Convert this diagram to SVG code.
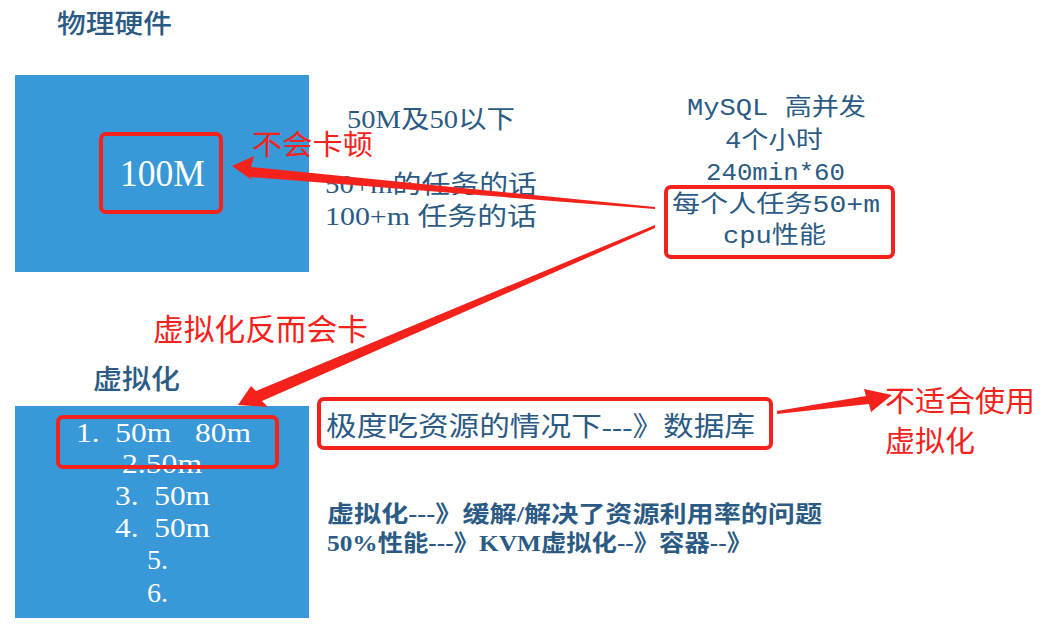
<svg xmlns="http://www.w3.org/2000/svg" width="1054" height="625" viewBox="0 0 1054 625">
<style>
.box{fill:#3898d8;}
.hl{fill:none;stroke:#f5221b;stroke-width:4;}
.t{font-family:"Liberation Serif","Noto Sans CJK SC",serif;fill:#2b5b84;}
.m{font-family:"Liberation Mono","Noto Sans CJK SC",monospace;fill:#2b5b84;}
.w{font-family:"Liberation Serif","Noto Sans CJK SC",serif;fill:#ffffff;white-space:pre;}
.r{font-family:"Noto Sans CJK SC",sans-serif;fill:#f5221b;}
.arrow{fill:#f5221b;}
</style>
<rect width="1054" height="625" fill="#ffffff"/>
<g id="title-physical">
<text class="t" x="57" y="33" font-size="26" font-weight="500" textLength="115" lengthAdjust="spacingAndGlyphs">物理硬件</text>
</g>
<g id="physical-box">
<rect class="box" x="15" y="75" width="294" height="197"/>
<rect class="hl" x="101" y="134" width="120" height="78" rx="5"/>
<text class="w" x="120" y="186" font-size="38" textLength="85" lengthAdjust="spacingAndGlyphs">100M</text>
</g>
<g id="label-nolag">
<text class="r" x="252" y="155" font-size="28" textLength="121" lengthAdjust="spacingAndGlyphs">不会卡顿</text>
</g>
<g id="physical-notes">
<text class="t" x="347" y="128" font-size="25" textLength="168" lengthAdjust="spacingAndGlyphs">50M及50以下</text>
<text class="t" x="325" y="193" font-size="25" textLength="212" lengthAdjust="spacingAndGlyphs">50+m的任务的话</text>
<text class="t" x="325" y="225" font-size="25" textLength="212" lengthAdjust="spacingAndGlyphs">100+m 任务的话</text>
</g>
<g id="mysql-notes">
<text class="m" x="687" y="115" font-size="24" textLength="179" lengthAdjust="spacingAndGlyphs">MySQL 高并发</text>
<text class="m" x="725" y="148" font-size="24" textLength="98" lengthAdjust="spacingAndGlyphs">4个小时</text>
<text class="m" x="706" y="180" font-size="24" textLength="139" lengthAdjust="spacingAndGlyphs">240min*60</text>
<rect class="hl" x="666" y="187" width="227" height="70" rx="5"/>
<text class="m" x="672" y="212" font-size="24" textLength="208" lengthAdjust="spacingAndGlyphs">每个人任务50+m</text>
<text class="m" x="723" y="243" font-size="24" textLength="103" lengthAdjust="spacingAndGlyphs">cpu性能</text>
</g>
<g id="label-virtlag">
<text class="r" x="153" y="340" font-size="30" textLength="215" lengthAdjust="spacingAndGlyphs">虚拟化反而会卡</text>
</g>
<g id="title-virtual">
<text class="t" x="93" y="389" font-size="27" font-weight="500" textLength="87" lengthAdjust="spacingAndGlyphs">虚拟化</text>
</g>
<g id="virtual-box">
<rect class="box" x="15" y="406" width="294" height="212"/>
<text class="w" xml:space="preserve" x="76" y="442" font-size="28" textLength="175" lengthAdjust="spacingAndGlyphs">1.  50m   80m</text>
<text class="w" x="122" y="473" font-size="28" textLength="80" lengthAdjust="spacingAndGlyphs">2.50m</text>
<text class="w" xml:space="preserve" x="115" y="505" font-size="28" textLength="95" lengthAdjust="spacingAndGlyphs">3.  50m</text>
<text class="w" xml:space="preserve" x="115" y="537" font-size="28" textLength="95" lengthAdjust="spacingAndGlyphs">4.  50m</text>
<text class="w" x="147" y="569" font-size="28" textLength="21" lengthAdjust="spacingAndGlyphs">5.</text>
<text class="w" x="147" y="602" font-size="28" textLength="21" lengthAdjust="spacingAndGlyphs">6.</text>
<rect class="hl" x="58" y="417" width="219" height="50" rx="5"/>
</g>
<g id="database-note">
<rect class="hl" x="319" y="399" width="452" height="49" rx="5"/>
<text class="t" x="326" y="436" font-size="27" textLength="429" lengthAdjust="spacingAndGlyphs">极度吃资源的情况下---》数据库</text>
</g>
<g id="label-unsuitable">
<text class="r" x="885" y="412" font-size="29" textLength="150" lengthAdjust="spacingAndGlyphs">不适合使用</text>
<text class="r" x="885" y="452" font-size="29" textLength="90" lengthAdjust="spacingAndGlyphs">虚拟化</text>
</g>
<g id="summary">
<text class="t" x="327" y="522" font-size="23" font-weight="bold" textLength="495" lengthAdjust="spacingAndGlyphs">虚拟化---》缓解/解决了资源利用率的问题</text>
<text class="t" x="327" y="551" font-size="23" font-weight="bold" textLength="425" lengthAdjust="spacingAndGlyphs">50%性能---》KVM虚拟化--》容器--》</text>
</g>
<g id="connectors">
<polygon class="arrow" points="232,166 254,156 251,167 655,207 655,209 250,177 252,180"/>
<polygon class="arrow" points="238,405 251,386 256,391 655,225 655,228 262,401 268,407"/>
<polygon class="arrow" points="777,411 866,396 864,389 892,395 871,412 869,404 777,414"/>
</g>
</svg>
